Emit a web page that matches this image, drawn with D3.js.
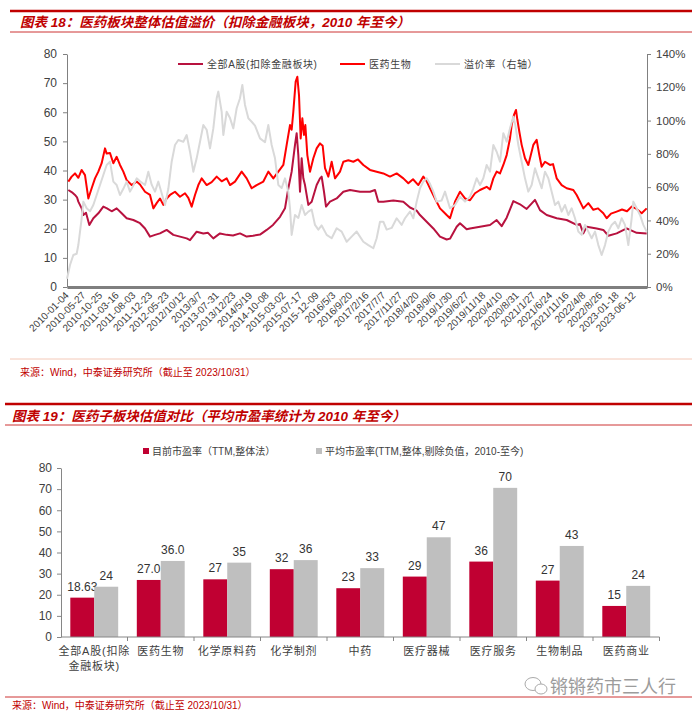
<!DOCTYPE html>
<html><head><meta charset="utf-8">
<script src="https://cdn.jsdelivr.net/npm/d3@7"></script>
<style>
body{margin:0;background:#fff;}
svg{display:block;}
text{font-family:"Liberation Sans",Arial,"Noto Sans CJK SC",sans-serif;}
.cjk{font-family:"Liberation Sans","Noto Sans CJK SC",sans-serif;}
</style></head>
<body>
<svg id="c" width="700" height="717"></svg>
<script>
// ---------- DATA: chart 18 (x in tick-label steps, one step ≈ 96 trading days) ----------
const xTickLabels = ["2010-01-04","2010-05-27","2010-10-25","2011-03-16","2011-08-03","2011-12-23","2012-05-23","2012/10/12","2013/3/7","2013-07-31","2013/12/23","2014/5/19","2014-10-08","2015-03-02","2015-07-17","2015-12-09","2016/5/3","2016/9/20","2017/2/16","2017/7/7","2017/11/27","2018/4/20","2018/9/6","2019/1/30","2019/6/27","2019/11/18","2020/4/10","2020/8/31","2021/1/27","2021/6/24","2021/11/16","2022/4/8","2022/8/26","2023-01-18","2023-06-12"];
const leftTicks = [0,10,20,30,40,50,60,70,80];
const rightTicks = [0,20,40,60,80,100,120,140];
const seriesNames = ["全部A股(扣除金融板块)","医药生物","溢价率（右轴）"];

const peAllA = [[0.08,33.3],[0.30,32.5],[0.48,31.6],[0.60,30.8],[0.68,29.3],[0.88,27],[0.98,24.7],[1.14,25.5],[1.34,21.3],[1.58,23.6],[1.88,25.3],[2.18,27.6],[2.40,27],[2.68,26],[2.98,27],[3.28,25.3],[3.58,23.6],[3.98,23],[4.38,21.9],[4.68,20.1],[4.98,17.3],[5.28,17.9],[5.58,18.4],[5.98,19.6],[6.38,17.9],[6.78,17.3],[7.18,16.7],[7.38,16.1],[7.78,19],[8.18,18.4],[8.46,18.6],[8.78,16.7],[9.18,18.4],[9.58,17.9],[9.96,17.7],[10.38,18.4],[10.78,17.3],[11.16,17.6],[11.58,18.0],[11.98,19.6],[12.36,21.3],[12.78,24.1],[13.08,27],[13.28,33.9],[13.48,39.6],[13.68,48.8],[13.78,52.8],[13.88,45.3],[13.98,32.7],[14.08,44.2],[14.18,37.3],[14.28,35],[14.48,28.2],[14.68,29.3],[14.98,35],[15.18,37.3],[15.28,37.9],[15.42,32.7],[15.54,27.6],[15.78,29.3],[16.18,30.4],[16.58,32.7],[16.98,33.3],[17.58,32.7],[18.18,32.7],[18.48,33.3],[18.68,29.3],[18.98,29.3],[19.58,29.7],[20.18,29.3],[20.58,27.3],[20.98,26.2],[21.18,24.7],[21.58,22.4],[21.98,20.1],[22.38,17.3],[22.78,16.3],[22.98,16.6],[23.38,20.7],[23.58,21.9],[23.98,19.8],[24.18,20.1],[24.78,20.7],[25.38,21.3],[25.78,23],[26.08,20.9],[26.38,23.8],[26.78,29.5],[27.18,28.4],[27.58,26.8],[28.08,29.9],[28.38,26.4],[28.78,24.7],[29.38,23.6],[29.98,23],[30.58,21.3],[30.78,21.6],[30.98,18.4],[31.18,20.7],[31.78,20.1],[32.18,19.6],[32.48,17.6],[32.98,18.4],[33.58,20.1],[33.78,19.6],[34.18,18.6],[34.78,18.4]];

const pePharma = [[0.08,36.2],[0.28,37.9],[0.48,39],[0.68,37.5],[0.88,40.2],[1.08,38.4],[1.28,30.4],[1.48,33.9],[1.68,37.3],[1.88,39.6],[2.08,42.5],[2.28,47.6],[2.38,45.8],[2.58,46],[2.78,42.5],[2.98,44.7],[3.18,41.9],[3.38,39.6],[3.58,36.7],[3.88,35],[4.18,36.2],[4.38,35.2],[4.68,32.7],[4.98,31.6],[5.18,27],[5.38,28.8],[5.58,30.4],[5.78,28.2],[5.98,30.4],[6.18,31.6],[6.48,32.7],[6.78,31],[7.08,32.2],[7.28,30.6],[7.48,27.6],[7.68,31.6],[7.88,35],[8.08,37.3],[8.38,35],[8.68,36],[8.98,37.9],[9.28,36.3],[9.58,37.3],[9.78,35],[10.08,36.2],[10.48,39.6],[10.78,37.3],[11.08,33.9],[11.38,35],[11.78,36.2],[12.08,39.6],[12.38,37.3],[12.68,39.6],[12.98,41.9],[13.18,48.8],[13.38,55.6],[13.48,54],[13.58,60.2],[13.72,70.5],[13.82,72.2],[13.92,65.9],[14.02,51],[14.12,57.9],[14.22,52.2],[14.30,55.6],[14.42,45.3],[14.58,39.6],[14.78,44.2],[14.98,47.6],[15.18,49.3],[15.34,48.5],[15.48,40.8],[15.68,37.9],[15.88,43],[16.08,37.3],[16.38,39.6],[16.58,43],[16.88,43.5],[17.18,43],[17.46,43.8],[17.78,41.9],[18.18,40.2],[18.58,39.6],[18.98,39],[19.38,37.9],[19.78,39],[20.18,37.3],[20.48,35.6],[20.76,37],[21.08,35],[21.38,37.9],[21.58,36.3],[21.78,33.9],[22.08,30.4],[22.38,27],[22.78,24.7],[22.98,23.6],[23.28,29.3],[23.58,32.7],[23.88,30.4],[24.18,29.8],[24.48,32.2],[24.78,33.3],[25.18,34.4],[25.38,33.5],[25.58,37.3],[25.78,39.6],[25.98,39],[26.18,41.9],[26.38,45.3],[26.58,51],[26.68,55.6],[26.82,59.1],[26.94,60.8],[27.02,57.5],[27.14,53.3],[27.28,48.8],[27.48,44.2],[27.68,41.9],[27.98,48.8],[28.18,50.5],[28.34,45.3],[28.48,41.3],[28.68,43],[28.98,41.9],[29.16,42.2],[29.38,37.3],[29.68,35],[29.98,33.9],[30.38,33.3],[30.58,31.6],[30.78,29.3],[30.98,27],[31.28,28.8],[31.58,26.5],[31.86,27],[32.18,25.3],[32.38,23.6],[32.64,25.2],[32.98,25.9],[33.30,26.6],[33.60,26],[33.88,27.6],[34.18,26.8],[34.48,25.3],[34.78,27]];

const premium = [[0.00,5],[0.18,13.2],[0.38,19.2],[0.58,20],[0.68,25.2],[0.88,41.3],[0.98,51.3],[1.18,47.3],[1.38,45.5],[1.58,49.3],[1.78,55.3],[1.98,61.3],[2.18,67.3],[2.38,73.3],[2.58,75.3],[2.78,63.3],[2.98,61.3],[3.18,55.3],[3.38,59],[3.58,63.3],[3.78,57.3],[3.98,61],[4.18,65.3],[4.38,63.5],[4.68,61.3],[4.88,69.3],[5.08,61.5],[5.28,57.3],[5.48,63.3],[5.68,56.3],[5.88,49.3],[6.08,59],[6.28,75.3],[6.48,85.3],[6.68,88.3],[6.98,87.3],[7.18,91.3],[7.38,81.3],[7.58,69.3],[7.78,77.3],[7.98,87.3],[8.18,97.3],[8.38,94.5],[8.58,83.3],[8.78,95.3],[8.98,113.4],[9.08,117.4],[9.28,105.3],[9.38,91.3],[9.58,105.3],[9.78,101.5],[9.98,95.3],[10.18,107.4],[10.38,113.4],[10.52,121.4],[10.68,109.4],[10.88,101.4],[11.08,99.3],[11.28,97],[11.58,89.3],[11.88,87],[12.08,97.3],[12.28,85.3],[12.48,77.3],[12.68,61.3],[12.88,59.5],[13.08,65.3],[13.28,57.3],[13.38,47.3],[13.48,31.3],[13.68,43.3],[13.88,41.5],[14.08,49.3],[14.28,43.3],[14.48,45.3],[14.68,46.5],[14.88,37.3],[15.08,34.5],[15.28,37],[15.58,31.3],[15.88,29.3],[16.18,35.3],[16.48,33.3],[16.78,27.2],[17.08,30.3],[17.38,33.3],[17.78,27.2],[18.08,25.2],[18.38,23.3],[18.58,29.3],[18.78,39.2],[18.98,39.2],[19.18,34.5],[19.48,35.5],[19.78,41.3],[20.08,37.3],[20.28,41.3],[20.58,45.3],[20.78,41.3],[20.98,51.3],[21.18,59.3],[21.38,63.3],[21.58,65.3],[21.78,62],[21.98,57.3],[22.18,51.3],[22.48,52],[22.68,57.3],[22.98,47.3],[23.28,49.3],[23.58,54.3],[23.88,51.3],[24.18,54.3],[24.38,59.3],[24.58,65.3],[24.78,61.3],[24.98,65.3],[25.18,73.3],[25.38,69.3],[25.58,85.3],[25.78,81.3],[25.98,75.3],[26.18,92.4],[26.38,87.3],[26.58,95.3],[26.78,102.3],[26.90,97.3],[27.08,85.3],[27.28,75.3],[27.48,65.3],[27.68,57.3],[27.88,61.3],[28.08,71.3],[28.28,65.3],[28.48,59.3],[28.68,69.3],[28.88,65.3],[29.08,57.3],[29.28,49.3],[29.48,51.3],[29.68,45.3],[29.88,49.3],[30.08,43.3],[30.28,47.3],[30.48,41.3],[30.68,33.3],[30.88,31.3],[31.08,37.3],[31.28,33.3],[31.48,29.3],[31.68,33.3],[31.88,25.2],[32.08,19.2],[32.28,25.2],[32.48,33.3],[32.68,37.3],[32.88,39.2],[33.08,35.3],[33.28,41.3],[33.48,37.3],[33.68,25.2],[33.88,41.3],[33.98,51.3],[34.18,47.3],[34.38,43.3],[34.58,37.3],[34.78,33.3]];

// ---------- DATA: chart 19 ----------
const categories = ["全部A股(扣除金融板块)","医药生物","化学原料药","化学制剂","中药","医疗器械","医疗服务","生物制品","医药商业"];
const currentPE = [18.63,27.0,27.3,32.1,23.1,28.6,35.7,26.7,14.7];
const currentPELabels = ["18.63","27.0","27","32","23","29","36","27","15"];
const avgPE = [23.8,36.0,35.2,36.4,32.6,47.2,70.6,43.1,24.2];
const avgPELabels = ["24","36.0","35","36","33","47","70","43","24"];
const barTicks = [0,10,20,30,40,50,60,70,80];
const barLegend = ["目前市盈率（TTM,整体法）","平均市盈率(TTM,整体,剔除负值，2010-至今)"];

const title18 = "图表 18：医药板块整体估值溢价（扣除金融板块，2010 年至今）";
const title19 = "图表 19：医药子板块估值对比（平均市盈率统计为 2010 年至今）";
const sourceText = "来源：Wind，中泰证券研究所（截止至 2023/10/31）";

// ---------- DRAW ----------
const svg = d3.select("#c");
const RED = "#C00000";

function header(y1, y2, x0, title, tx, ty){
  svg.append("line").attr("x1",x0).attr("x2",692).attr("y1",y1).attr("y2",y1).attr("stroke",RED).attr("stroke-width",2.5);
  svg.append("line").attr("x1",x0).attr("x2",692).attr("y1",y2).attr("y2",y2).attr("stroke",RED).attr("stroke-width",0.8);
  svg.append("text").attr("class","cjk").attr("x",tx).attr("y",ty).attr("fill",RED)
    .attr("font-size",13.5).attr("font-weight","bold").attr("font-style","italic").text(title);
}
header(11, 32, 10, title18, 20, 27);
header(404, 425, 5, title19, 12, 421);

// ===== Chart 18 =====
const x = d3.scaleLinear().domain([0,34.8]).range([67,647]);
const yL = d3.scaleLinear().domain([0,80]).range([287,54]);
const yR = d3.scaleLinear().domain([0,140]).range([287,54]);

const axL = svg.append("g").attr("transform","translate(67,0)")
  .call(d3.axisLeft(yL).tickValues(leftTicks).tickSize(4).tickSizeOuter(0).tickPadding(6));
axL.select(".domain").attr("stroke","#808080");
axL.selectAll(".tick line").attr("stroke","#808080");
axL.selectAll("text").attr("font-size",12).attr("fill","#404040");

const axR = svg.append("g").attr("transform","translate(647,0)")
  .call(d3.axisRight(yR).tickValues(rightTicks).tickSize(4).tickSizeOuter(0).tickPadding(5).tickFormat(d=>d+"%"));
axR.select(".domain").attr("stroke","#808080");
axR.selectAll(".tick line").attr("stroke","#808080");
axR.selectAll("text").attr("font-size",11.5).attr("fill","#404040");

const line = (ys)=>d3.line().x(d=>x(d[0])).y(d=>ys(d[1]));
svg.append("path").datum(peAllA).attr("d",line(yL)).attr("fill","none").attr("stroke","#B8123F").attr("stroke-width",2).attr("stroke-linejoin","round");
svg.append("path").datum(pePharma).attr("d",line(yL)).attr("fill","none").attr("stroke","#FF0000").attr("stroke-width",2).attr("stroke-linejoin","round");
svg.append("path").datum(premium).attr("d",line(yR)).attr("fill","none").attr("stroke","#D9D9D9").attr("stroke-width",2).attr("stroke-linejoin","round");

// x axis
const axB = svg.append("g").attr("transform","translate(0,287)")
  .call(d3.axisBottom(x).tickValues(d3.range(xTickLabels.length)).tickSize(0).tickFormat(i=>xTickLabels[i]));
axB.select(".domain").attr("stroke","#7F7F7F").attr("stroke-width",3);
axB.selectAll("text").attr("font-size",10).attr("fill","#404040")
  .attr("text-anchor","end").attr("dy",0).attr("y",0)
  .attr("transform","translate(2,9) rotate(-45)");

// legend 18
const leg = [{x:178,c:"#B8123F"},{x:340,c:"#FF0000"},{x:435,c:"#D9D9D9"}];
leg.forEach((l,i)=>{
  svg.append("line").attr("x1",l.x).attr("x2",l.x+25).attr("y1",64).attr("y2",64).attr("stroke",l.c).attr("stroke-width",2);
  svg.append("text").attr("class","cjk").attr("x",l.x+29).attr("y",68).attr("font-size",10).attr("letter-spacing",0.6).attr("fill","#404040").text(seriesNames[i]);
});

// source 18
svg.append("line").attr("x1",10).attr("x2",692).attr("y1",359).attr("y2",359).attr("stroke","#F4C9B8").attr("stroke-width",1);
svg.append("text").attr("class","cjk").attr("x",20).attr("y",376).attr("font-size",10).attr("fill",RED).text(sourceText);

// ===== Chart 19 =====
const xb = d3.scaleBand().domain(categories).range([61,659.5]).paddingInner(0.28).paddingOuter(0.14);
const xs = d3.scaleBand().domain([0,1]).range([0,xb.bandwidth()]);
const yb = d3.scaleLinear().domain([0,80]).range([637,468]);

const ayb = svg.append("g").attr("transform","translate(61,0)")
  .call(d3.axisLeft(yb).tickValues(barTicks).tickSize(4).tickSizeOuter(0).tickPadding(5));
ayb.select(".domain").attr("stroke","#868686");
ayb.selectAll(".tick line").attr("stroke","#868686");
ayb.selectAll("text").attr("font-size",12).attr("fill","#404040");

const groups = svg.append("g").selectAll("g").data(categories).join("g")
  .attr("transform",d=>`translate(${xb(d)},0)`);
const cols = ["#C00032","#BFBFBF"];
[currentPE, avgPE].forEach((arr,si)=>{
  const labs = si===0?currentPELabels:avgPELabels;
  groups.append("rect").attr("x",xs(si)).attr("width",xs.bandwidth())
    .attr("y",(d,i)=>yb(arr[i])).attr("height",(d,i)=>yb(0)-yb(arr[i])).attr("fill",cols[si]);
  groups.append("text").attr("x",xs(si)+xs.bandwidth()/2).attr("y",(d,i)=>yb(arr[i])-7)
    .attr("text-anchor","middle").attr("font-size",12).attr("fill","#333").text((d,i)=>labs[i]);
});

// category axis
const step = xb.step();
svg.append("line").attr("x1",61).attr("x2",659.5).attr("y1",637).attr("y2",637).attr("stroke","#868686");
svg.append("g").selectAll("line").data(d3.range(1,categories.length+1)).join("line")
  .attr("x1",i=>61+i*step).attr("x2",i=>61+i*step).attr("y1",637).attr("y2",641).attr("stroke","#868686");
const catText = svg.append("g").selectAll("text").data(categories).join("text")
  .attr("class","cjk").attr("text-anchor","middle").attr("font-size",11).attr("letter-spacing",0.8).attr("fill","#404040")
  .attr("x",d=>xb(d)+xb.bandwidth()/2).attr("y",655);
catText.each(function(d){
  const t = d3.select(this);
  const parts = d.length>7 ? [d.slice(0,7), d.slice(7)] : [d];
  parts.forEach((p,k)=>t.append("tspan").attr("x",xb(d)+xb.bandwidth()/2).attr("dy",k?15:0).text(p));
});

// legend 19
const lg = [{x:143},{x:316}];
lg.forEach((l,i)=>{
  svg.append("rect").attr("x",l.x).attr("y",448).attr("width",6).attr("height",6).attr("fill",cols[i]);
  svg.append("text").attr("class","cjk").attr("x",l.x+9).attr("y",455).attr("font-size",10).attr("fill","#404040").text(barLegend[i]);
});

// watermark
const wm = svg.append("g").attr("transform","translate(0,0)");
wm.append("ellipse").attr("cx",533).attr("cy",684).attr("rx",8).attr("ry",6.5).attr("fill","none").attr("stroke","#aaa").attr("stroke-width",1);
wm.append("ellipse").attr("cx",541).attr("cy",689).attr("rx",6).attr("ry",5).attr("fill","#fff").attr("stroke","#aaa").attr("stroke-width",1);
wm.append("text").attr("class","cjk").attr("x",550).attr("y",693).attr("font-size",18).attr("fill","#9c9c9c").text("锵锵药市三人行");

// source 19
svg.append("line").attr("x1",5).attr("x2",692).attr("y1",697).attr("y2",697).attr("stroke",RED).attr("stroke-width",0.8);
svg.append("text").attr("class","cjk").attr("x",12).attr("y",709).attr("font-size",10).attr("fill",RED).text(sourceText);
</script>
</body></html>
